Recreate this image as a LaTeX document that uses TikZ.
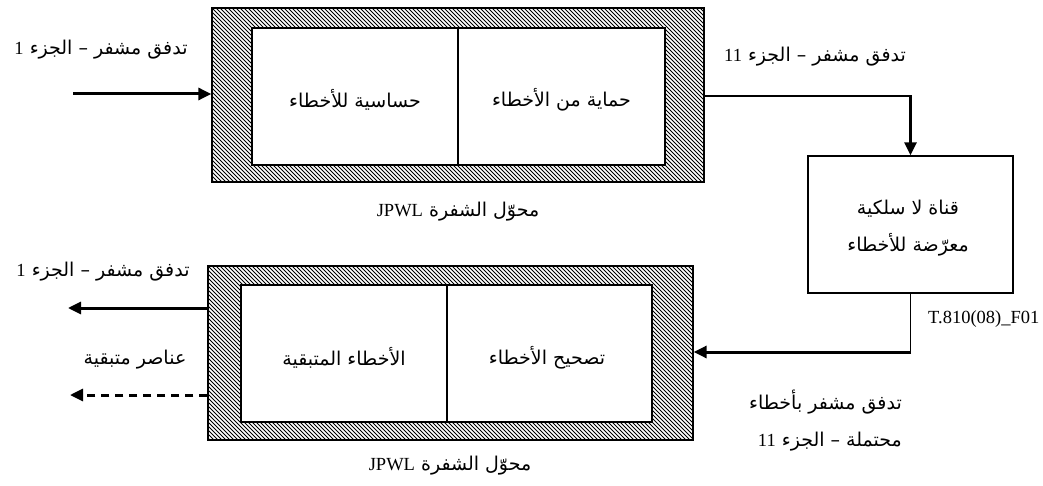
\documentclass[tikz,border=0pt]{standalone}
\usepackage{fontspec}
\setmainfont{Liberation Serif}
\newfontfamily\arabicfont[Script=Arabic]{DejaVu Sans}
\TeXXeTstate=1
\usetikzlibrary{arrows.meta}
\newcommand{\artx}[1]{{\arabicfont\beginR #1\endR}}
\newcommand{\latn}[1]{{\rmfamily\fontsize{18.5}{37}\selectfont\beginL #1\endL}}
\tikzset{
  outerbox/.style={draw, line width=1.3pt, minimum width=#1, minimum height=174pt, inner sep=0pt},
  innerbox/.style={draw, fill=white, line width=1.4pt, minimum width=#1, minimum height=137pt, inner sep=0pt},
  lbl/.style={font=\fontsize{19}{37}\selectfont, inner sep=0pt},
  flow/.style={line width=3pt, -{Triangle[length=13pt,width=12pt]}},
  thinline/.style={line width=1.4pt},
  hatchline/.style={line width=0.8pt},
}
\newcommand{\hatchfill}[1]{%
  \begin{scope}
    \clip (#1.north west) rectangle (#1.south east);
    \foreach \i in {-180,-176,...,700} {
      \draw[hatchline] ([xshift=\i pt]#1.north west) -- ++(180,180);
    }
  \end{scope}}
\begin{document}
\begin{tikzpicture}[x=1pt,y=-1pt]
\useasboundingbox (0,0) rectangle (1043,486);
% top transcoder
\node[outerbox=492pt] (tout) at (458,95) {};
\hatchfill{tout}
\node[outerbox=492pt] at (tout) {};
\node[innerbox=206pt] (tsens) at (355,96.5) {};
\node[innerbox=207pt] (tprot) at (561.5,96.5) {};
\node[lbl] (tsenslbl) at (355,100) {\artx{حساسية للأخطاء}};
\node[lbl] (tprotlbl) at (561.5,100) {\artx{حماية من الأخطاء}};
\node[lbl] (tcap) at (458,212) {\artx{محوّل الشفرة \latn{JPWL}}};
% channel
\node[draw, line width=1.4pt, minimum width=205pt, minimum height=137pt, inner sep=0pt] (chan) at (910.5,224.5) {};
\node[lbl, align=center] (chanlbl) at (908,228.5) {\artx{قناة لا سلكية}\\\artx{معرّضة للأخطاء}};
% bottom transcoder
\node[outerbox=485pt] (bout) at (450.5,353) {};
\hatchfill{bout}
\node[outerbox=485pt] at (bout) {};
\node[innerbox=206pt] (bres) at (344,353.5) {};
\node[innerbox=205pt] (bcorr) at (549.5,353.5) {};
\node[lbl] (breslbl) at (344,358) {\artx{الأخطاء المتبقية}};
\node[lbl] (bcorrlbl) at (547,358) {\artx{تصحيح الأخطاء}};
\node[lbl] (bcap) at (450,466) {\artx{محوّل الشفرة \latn{JPWL}}};
% labels
\node[lbl] (l1) at (101,50) {\artx{تدفق مشفر – الجزء \latn{1}}};
\node[lbl] (l2) at (815,57) {\artx{تدفق مشفر – الجزء \latn{11}}};
\node[lbl] (l3) at (103,272) {\artx{تدفق مشفر – الجزء \latn{1}}};
\node[lbl] (l4) at (135,360) {\artx{عناصر متبقية}};
\node[lbl, align=right, anchor=east] (l5) at (902,421) {\artx{تدفق مشفر بأخطاء}\\\artx{محتملة – الجزء \latn{11}}};
\node[inner sep=0pt, font=\fontsize{18.5}{22}\selectfont, anchor=west] (fig) at (928,319) {T.810(08)\_F01};
% connectors
\coordinate (in1) at (73,94);
\draw[flow] (in1) -- (in1 -| tout.west);
\coordinate (c1) at (910.5,96);
\draw[thinline] (tout.east |- c1) -- (c1);
\draw[flow] ([yshift=0.7pt]c1) -- (chan.north);
\coordinate (c2) at (910.5,352);
\draw[thinline] (chan.south) -- (c2);
\draw[flow] ([xshift=0.7pt]c2) -- (bout.east |- c2);
\coordinate (o1) at (68,308);
\coordinate (o2) at (70,395);
\draw[flow] (bout.west |- o1) -- (o1);
\draw[flow, dash pattern=on 8pt off 6pt] (bout.west |- o2) -- (o2);
\end{tikzpicture}
\end{document}
